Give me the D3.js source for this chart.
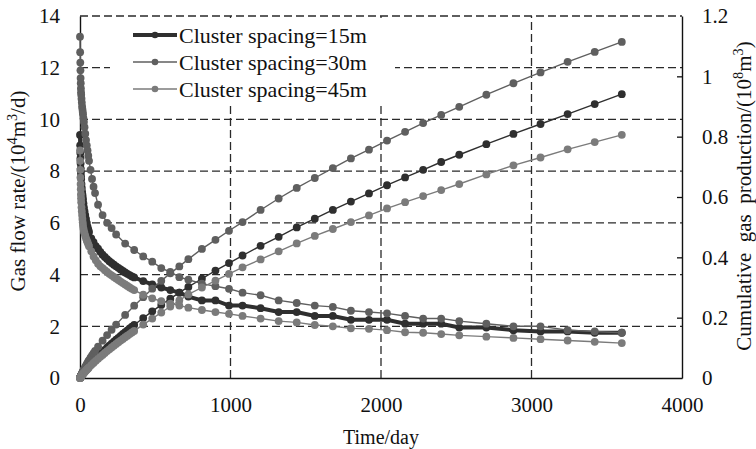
<!DOCTYPE html>
<html><head><meta charset="utf-8">
<script src="https://cdn.jsdelivr.net/npm/d3@7"></script>
<style>body{margin:0;background:#fff}svg{display:block}svg text{font-family:"Liberation Serif","Times New Roman",serif}</style>
</head><body><svg id="c" width="756" height="449"></svg>
<script>
// ---- data ----
const daysA = [0,1,2,3,4,5,6,7,8,
  10,12,14,16,18,20,
  23,26,30,35,40,45,50,55,60,
  75,90,105,120,135,150,165,180,195,210,225,240,255,270,285,300,315,330,345,360,
  420,480,540,600,660,720,
  810,900,990,1080,
  1200,1320,1440,1560,1680,1800,1920,2040,2160,2280,2400,2520,
  2700,2880,3060,3240,3420,3600];
const days30 = [0,1,2,3,4,5,6,7,8,
  10,12,14,16,18,20,
  23,26,30,35,40,45,50,55,60,
  70,80,90,100,
  120,150,180,210,240,
  300,360,
  420,480,540,600,660,720,
  810,900,990,1080,
  1200,1320,1440,1560,1680,1800,1920,2040,2160,2280,2400,2520,
  2700,2880,3060,3240,3420,3600];

const flow15 = [9.4,9.0,8.7,8.5,8.3,8.1,7.95,7.8,7.7,
  7.5,7.35,7.2,7.1,7.0,6.9,
  6.75,6.6,6.45,6.3,6.15,6.0,5.85,5.75,5.65,
  5.4,5.25,5.1,5.0,4.88,4.77,4.68,4.6,4.52,4.45,4.38,4.32,4.26,4.2,4.14,4.08,4.03,3.98,3.93,3.89,
  3.75,3.62,3.5,3.4,3.3,3.15,
  3.0,3.0,2.8,2.8,
  2.7,2.55,2.55,2.4,2.4,2.25,2.25,2.25,2.1,2.1,2.1,1.95,
  1.95,1.85,1.8,1.8,1.75,1.75];
const cum15 = [0,0.0009,0.0018,0.0027,0.0035,0.0043,0.0051,0.0059,0.0067,
  0.0082,0.0097,0.0112,0.0126,0.014,0.0154,
  0.0175,0.0195,0.0221,0.0253,0.0284,0.0314,0.0344,0.0373,0.0401,
  0.0483,0.0563,0.064,0.0716,0.079,0.0862,0.0932,0.1002,0.107,0.1137,0.1203,0.1268,0.1332,0.1395,0.1458,0.152,0.1581,0.1641,0.17,0.1759,
  0.1988,0.2209,0.2423,0.263,0.2831,0.302,
  0.329,0.356,0.381,0.406,
  0.438,0.468,0.499,0.528,0.557,0.585,0.612,0.639,0.665,0.69,0.716,0.74,
  0.775,0.809,0.842,0.875,0.908,0.941];

const flow30 = [13.2,12.6,12.2,11.9,11.6,11.4,11.2,11.05,10.95,
  10.8,10.65,10.5,10.4,10.3,10.2,
  10.05,9.9,9.7,9.45,9.2,9.0,8.8,8.6,8.4,
  8.05,7.7,7.4,7.15,
  6.7,6.3,6.0,5.8,5.55,
  5.2,4.95,
  4.7,4.5,4.25,4.1,3.9,3.8,
  3.65,3.55,3.45,3.3,
  3.2,3.0,2.9,2.8,2.75,2.6,2.55,2.5,2.4,2.3,2.3,2.2,
  2.1,2.0,2.0,1.85,1.8,1.75];
const cum30 = [0,0.0013,0.0025,0.0037,0.0049,0.006,0.0071,0.0082,0.0093,
  0.0115,0.0136,0.0158,0.0179,0.0199,0.022,
  0.025,0.028,0.0319,0.0367,0.0413,0.0459,0.0504,0.0547,0.0589,
  0.0671,0.075,0.0826,0.0899,
  0.1038,0.1238,0.1423,0.16,0.177,
  0.2092,0.2397,
  0.268,0.296,0.322,0.347,0.37,0.394,
  0.428,0.458,0.488,0.517,
  0.557,0.595,0.63,0.663,0.696,0.728,0.757,0.787,0.816,0.845,0.872,0.899,
  0.939,0.977,1.013,1.048,1.081,1.114];

const flow45 = [8.8,8.4,8.05,7.75,7.5,7.3,7.1,6.95,6.8,
  6.6,6.45,6.3,6.15,6.02,5.9,
  5.78,5.68,5.6,5.5,5.4,5.32,5.25,5.17,5.1,
  4.9,4.7,4.55,4.42,4.32,4.25,4.17,4.1,4.03,3.97,3.91,3.85,3.79,3.73,3.67,3.62,3.56,3.5,3.45,3.4,
  3.22,3.08,2.97,2.88,2.8,2.72,
  2.63,2.55,2.48,2.4,
  2.3,2.2,2.15,2.05,2.0,1.92,1.9,1.85,1.77,1.75,1.7,1.65,
  1.6,1.55,1.5,1.45,1.4,1.35];
const cum45 = [0,0.0009,0.0017,0.0025,0.0032,0.004,0.0047,0.0054,0.0061,
  0.0074,0.0087,0.01,0.0112,0.0124,0.0136,
  0.0153,0.017,0.0193,0.0221,0.0248,0.0275,0.0301,0.0327,0.0353,
  0.0428,0.05,0.0569,0.0636,0.0702,0.0766,0.0829,0.0891,0.0951,0.1011,0.107,0.1128,0.1185,0.1241,0.1296,0.1351,0.1404,0.1457,0.1509,0.156,
  0.177,0.197,0.217,0.237,0.257,0.277,
  0.3,0.323,0.345,0.367,
  0.393,0.42,0.446,0.471,0.494,0.517,0.539,0.562,0.583,0.603,0.623,0.643,
  0.675,0.705,0.731,0.758,0.782,0.806];

const seriesNames = ["Cluster spacing=15m","Cluster spacing=30m","Cluster spacing=45m"];
const xTicks = [0,1000,2000,3000,4000];
const leftTicks = [0,2,4,6,8,10,12,14];
const rightTicks = [0,0.2,0.4,0.6,0.8,1,1.2];

// ---- chart ----
const FONT = '"Liberation Serif","Times New Roman",serif';
const svg = d3.select("#c").attr("font-family", FONT);
const x = d3.scaleLinear().domain([0,4000]).range([80,682]);
const yL = d3.scaleLinear().domain([0,14]).range([378,16]);
const yR = d3.scaleLinear().domain([0,1.2]).range([378,16]);

const series = [
  {name:seriesNames[0], days:daysA, flow:flow15, cum:cum15, color:"#2f2f2f", flowW:4, cumW:1.4},
  {name:seriesNames[1], days:days30, flow:flow30, cum:cum30, color:"#5f5f5f", flowW:1.4, cumW:1.4},
  {name:seriesNames[2], days:daysA, flow:flow45, cum:cum45, color:"#7b7b7b", flowW:1.4, cumW:1.4}
];

// grid
const grid = svg.append("g").attr("stroke","#2a2a2a").attr("stroke-width",1.3).attr("stroke-dasharray","8,4");
grid.selectAll("line.h").data(leftTicks.filter(v=>v>0)).join("line").attr("class","h")
  .attr("x1",x(0)).attr("x2",x(4000)).attr("y1",d=>yL(d)).attr("y2",d=>yL(d));
grid.selectAll("line.v").data(xTicks.filter(v=>v>0&&v<4000)).join("line").attr("class","v")
  .attr("x1",d=>x(d)).attr("x2",d=>x(d)).attr("y1",yL(0)).attr("y2",yL(14));

// axes
const axL = svg.append("g").attr("transform",`translate(${x(0)},0)`)
  .call(d3.axisLeft(yL).tickValues(leftTicks).tickFormat(d3.format("d")).tickSize(0).tickPadding(20));
const axR = svg.append("g").attr("transform",`translate(${x(4000)},0)`)
  .call(d3.axisRight(yR).tickValues(rightTicks).tickFormat(d3.format("~g")).tickSizeInner(-5).tickSizeOuter(0).tickPadding(20));
const axB = svg.append("g").attr("transform",`translate(0,${yL(0)})`)
  .call(d3.axisBottom(x).tickValues(xTicks).tickFormat(d3.format("d")).tickSize(0).tickPadding(19));
[axL,axR,axB].forEach(a=>{
  a.attr("font-family",FONT).attr("font-size",21);
  a.selectAll("text").attr("font-family",FONT).attr("font-size",21).attr("fill","#111");
  a.select(".domain").attr("stroke","#111").attr("stroke-width",1.4);
  a.selectAll(".tick line").attr("stroke","#111").attr("stroke-width",1.3);
});
axR.selectAll(".tick").filter(d=>d===0||d===1.2).select("line").remove();

// series
const plot = svg.append("g");
series.forEach(s=>{
  const ptsC = s.days.map((d,i)=>[d,s.cum[i]]);
  const ptsF = s.days.map((d,i)=>[d,s.flow[i]]);
  const lc = d3.line().x(d=>x(d[0])).y(d=>yR(d[1]));
  const lf = d3.line().x(d=>x(d[0])).y(d=>yL(d[1]));
  const g = plot.append("g");
  g.append("path").datum(ptsC).attr("d",lc).attr("fill","none").attr("stroke",s.color).attr("stroke-width",s.cumW);
  g.selectAll("circle.c").data(ptsC).join("circle").attr("class","c")
    .attr("cx",d=>x(d[0])).attr("cy",d=>yR(d[1])).attr("r",3.9).attr("fill",s.color);
  g.append("path").datum(ptsF).attr("d",lf).attr("fill","none").attr("stroke",s.color).attr("stroke-width",s.flowW);
  g.selectAll("circle.f").data(ptsF).join("circle").attr("class","f")
    .attr("cx",d=>x(d[0])).attr("cy",d=>yL(d[1])).attr("r",3.9).attr("fill",s.color);
});

// legend
const lg = svg.append("g");
lg.append("rect").attr("x",110).attr("y",22).attr("width",285).attr("height",82).attr("fill","#fff");
series.forEach((s,i)=>{
  const yy = 35 + i*27;
  lg.append("line").attr("x1",133).attr("x2",177).attr("y1",yy).attr("y2",yy)
    .attr("stroke",s.color).attr("stroke-width",s.flowW);
  lg.append("circle").attr("cx",155).attr("cy",yy).attr("r",3.3).attr("fill",s.color);
  lg.append("text").attr("x",179).attr("y",yy).attr("dy","0.35em").attr("font-size",22)
    .attr("fill","#111").text(s.name);
});

// titles
function richText(g, parts, fs){
  const t = g.append("text").attr("font-size",fs).attr("fill","#111").attr("text-anchor","middle");
  let up = false;
  parts.forEach(([str,sup])=>{
    const ts = t.append("tspan").text(str);
    if(sup && !up){ ts.attr("dy",-fs*0.4).attr("font-size",fs*0.68); up=true; }
    else if(sup){ ts.attr("font-size",fs*0.68); }
    else if(!sup && up){ ts.attr("dy",fs*0.4); up=false; }
  });
  return t;
}
richText(svg.append("g").attr("transform","translate(25,191) rotate(-90)"),
  [["Gas flow rate/(10",0],["4",1],["m",0],["3",1],["/d)",0]],21);
richText(svg.append("g").attr("transform","translate(751,196) rotate(-90)"),
  [["Cumulative  gas  production/(10",0],["8",1],["m",0],["3",1],[")",0]],21)
  .attr("style","white-space:pre");
richText(svg.append("g").attr("transform","translate(381,444)"),
  [["Time/day",0]],20);
</script></body></html>
